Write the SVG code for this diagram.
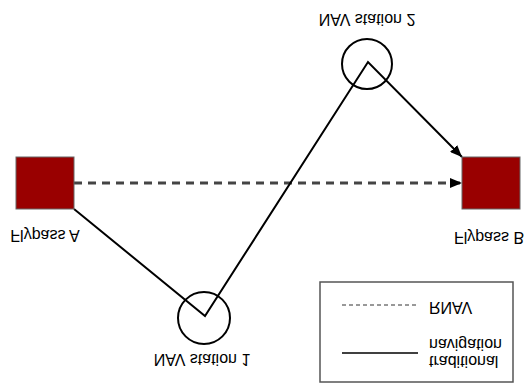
<svg xmlns="http://www.w3.org/2000/svg" width="528" height="383" viewBox="0 0 528 383">
<style>
.lbl{font-family:"Liberation Sans",Arial,sans-serif;font-size:16px;fill:#000}
.sq{fill:#990000;stroke:#666;stroke-width:1}
.st{fill:none;stroke:#000;stroke-width:2}
</style>
<defs>
<marker id="ah" viewBox="0 0 12 10" refX="12" refY="5" markerWidth="12" markerHeight="10" markerUnits="userSpaceOnUse" orient="auto">
<path d="M0,0 L12,5 L0,10 Z" fill="#000"/>
</marker>
</defs>
<rect width="528" height="383" fill="#fff"/>
<g id="connectors">
<line x1="74" y1="183" x2="462" y2="183" stroke="#444" stroke-width="3" stroke-dasharray="8 6" marker-end="url(#ah)"/>
<polyline class="st" points="74,209 205,316 368,62 462,157" marker-end="url(#ah)"/>
</g>
<g id="flypassA">
<rect class="sq" x="16" y="157" width="58" height="52"/>
<text class="lbl" text-anchor="middle" x="45" y="242" transform="matrix(1 0 0 -1 0 472)">Flypass A</text>
</g>
<g id="flypassB">
<rect class="sq" x="462" y="157" width="58" height="52"/>
<text class="lbl" text-anchor="middle" x="489" y="244" transform="matrix(1 0 0 -1 0 476)">Flypass B</text>
</g>
<g id="nav1">
<circle class="st" cx="204" cy="318" r="26"/>
<text class="lbl" text-anchor="middle" x="202" y="366" transform="matrix(1 0 0 -1 0 720)">NAV station 1</text>
</g>
<g id="nav2">
<circle class="st" cx="367" cy="64" r="25"/>
<text class="lbl" text-anchor="middle" x="367" y="26" transform="matrix(1 0 0 -1 0 40)">NAV station 2</text>
</g>
<g id="legend">
<rect x="320" y="282" width="193" height="100" fill="#fff" stroke="#555" stroke-width="1.5"/>
<line x1="342" y1="305" x2="418" y2="305" stroke="#333" stroke-width="1" stroke-dasharray="4 3"/>
<text class="lbl" x="429" y="312" transform="matrix(1 0 0 -1 0 614)">RNAV</text>
<line x1="342" y1="353" x2="418" y2="353" stroke="#000" stroke-width="1.5"/>
<text class="lbl" x="429" y="368" transform="matrix(1 0 0 -1 0 724)">traditional</text>
<text class="lbl" x="429" y="350" transform="matrix(1 0 0 -1 0 689)">navigation</text>
</g>
</svg>
